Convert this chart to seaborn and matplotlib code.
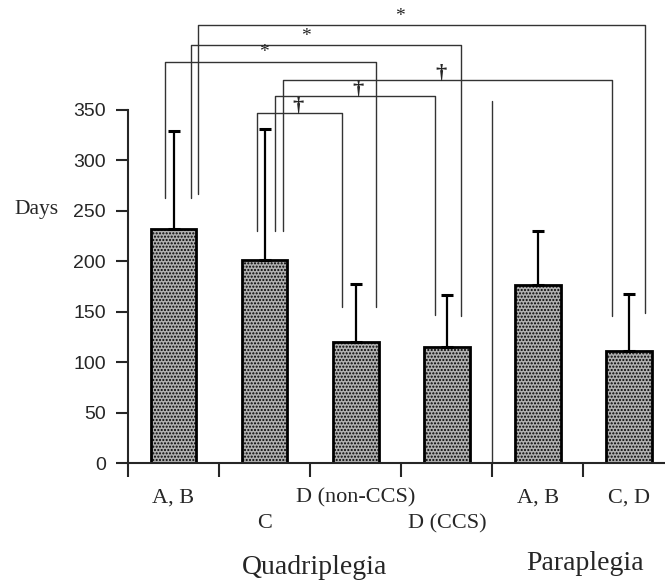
import numpy as np
import pandas as pd
import matplotlib
matplotlib.use('Agg')
import matplotlib.pyplot as plt
import seaborn as sns

# Daten
groups = ['Q_AB', 'Q_C', 'Q_Dnon', 'Q_Dccs', 'P_AB', 'P_CD']
labels = ['A, B', 'C', 'D (non-CCS)', 'D (CCS)', 'A, B', 'C, D']
label_row = [0, 1, 0, 1, 0, 0]
means = [232, 201, 120, 115, 176, 111]
sd = [97, 130, 57, 52, 54, 57]
yticks = [0, 50, 100, 150, 200, 250, 300, 350]

# comparisons: left x, left bottom, top, right x, right bottom, symbol, symbol x
comparisons = [
    (0.27, 267, 434, 5.17, 149, '*', 2.48),
    (0.195, 263, 414, 3.155, 146, '*', 1.455),
    (-0.093, 263, 398, 2.22, 155, '*', 0.99),
    (1.2, 230, 380, 4.81, 146, '\u2020', 2.94),
    (1.11, 230, 364, 2.87, 147, '\u2020', 2.02),
    (0.92, 230, 347, 1.85, 155, '\u2020', 1.37),
]

sns.set_style('ticks')
plt.rcParams['font.family'] = ['Liberation Serif', 'DejaVu Serif']

df = pd.DataFrame({'group': groups, 'days': means})

fig = plt.figure(figsize=(6.65, 5.85), dpi=100)
ax = fig.add_axes([0.1925, 0.2085, 0.8075, 0.7915])

sns.barplot(data=df, x='group', y='days', order=groups, width=0.5,
            color='#b0b0b0', saturation=1, edgecolor='black', linewidth=2,
            hatch='.....', ax=ax, zorder=2)
ax.errorbar(np.arange(len(means)), means, yerr=[np.zeros(len(sd)), sd],
            fmt='none', ecolor='black', elinewidth=1.6, capsize=4.5,
            capthick=2.2, zorder=3)

# Vergleichs-Klammern
for lx, lb, top, rx, rb, sym, sx in comparisons:
    ax.plot([lx, lx, rx, rx], [lb, top, top, rb], color='#333333', lw=1.0,
            zorder=1, clip_on=False)
    if sym == '*':
        ax.text(sx, top + 9, sym, ha='center', va='center', fontsize=14)
    else:
        ax.text(sx, top - 4, sym, ha='center', va='bottom', fontsize=16,
                fontweight='bold')

# Trennlinie Quadriplegia / Paraplegia
ax.plot([3.5, 3.5], [0, 359], color='#333333', lw=1.0, zorder=1)

ax.set_xlim(-0.5, 5.395)
ax.set_ylim(0, 459)
ax.set_xticks(np.arange(-0.5, 5, 1.0))
ax.set_xticklabels([])
ax.set_yticks(yticks)
ax.set_yticklabels([str(t) for t in yticks],
                   family=['Liberation Sans', 'DejaVu Sans'], fontsize=14)
ax.tick_params(axis='x', length=10, width=1.5, direction='out')
ax.tick_params(axis='y', length=9, width=1.5, direction='out', pad=7)
ax.set_xlabel('')
ax.set_ylabel('')
sns.despine(ax=ax)
ax.spines['left'].set_bounds(0, 350)
ax.spines['left'].set_linewidth(1.5)
ax.spines['bottom'].set_linewidth(1.5)

for i, (lab, row) in enumerate(zip(labels, label_row)):
    ax.text(i, -35 - 25 * row, lab, ha='center', va='center', fontsize=16,
            clip_on=False)

ax.text(1.55, -104, 'Quadriplegia', ha='center', va='center', fontsize=20)
ax.text(4.52, -100, 'Paraplegia', ha='center', va='center', fontsize=20)
ax.text(-1.5, 251, 'Days', ha='center', va='center', fontsize=15.5)

fig.savefig('out.png', dpi=100)
